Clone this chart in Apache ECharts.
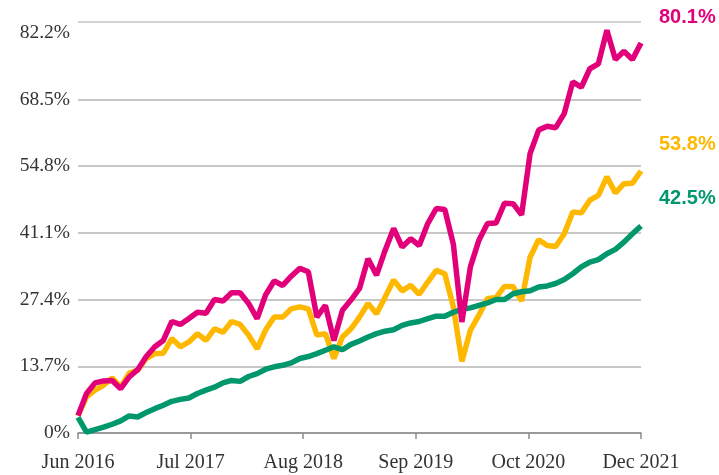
<!DOCTYPE html>
<html>
<head>
<meta charset="utf-8">
<script src="https://cdn.jsdelivr.net/npm/echarts@6/dist/echarts.min.js"></script>
<style>
    * { margin: 0; padding: 0; }
    html, body { background: #fff; }
</style>
</head>
<body>
<div id="chart" style="width: 719px;height: 475px;"></div>
<script>
    // monthly points, Jun 2016 .. Dec 2021 (67 months)
    var xTickLabels = ['Jun 2016', 'Jul 2017', 'Aug 2018', 'Sep 2019', 'Oct 2020', 'Dec 2021'];
    var yTicks = [0, 13.7, 27.4, 41.1, 54.8, 68.5, 82.2];

    var pinkData = [3.6, 8.1, 10.3, 10.7, 10.8, 9.1, 11.5, 13.0, 15.7, 17.7,
        19.0, 22.9, 22.3, 23.5, 24.8, 24.6, 27.4, 27.1, 28.8, 28.8,
        26.6, 23.5, 28.4, 31.2, 30.3, 32.2, 33.8, 33.1, 23.8, 26.2,
        19.0, 25.2, 27.3, 29.7, 35.8, 32.4, 37.5, 42.0, 38.2, 39.9,
        38.5, 43.0, 46.1, 45.9, 38.8, 22.8, 34.1, 39.6, 43.0, 43.1,
        47.2, 47.1, 44.8, 57.4, 62.2, 63.0, 62.7, 65.6, 72.1, 71.0,
        74.8, 75.8, 82.7, 76.7, 78.4, 76.7, 80.1];
    var orangeData = [3.5, 7.4, 8.8, 9.8, 11.3, 9.4, 12.3, 12.9, 15.3, 16.3,
        16.4, 19.4, 17.7, 18.7, 20.4, 19.0, 21.4, 20.7, 22.9, 22.3,
        20.1, 17.3, 21.2, 23.8, 23.8, 25.5, 25.9, 25.5, 20.1, 20.4,
        15.3, 19.7, 21.4, 23.8, 26.6, 24.5, 27.9, 31.4, 29.2, 30.3,
        28.5, 31.0, 33.4, 32.7, 25.9, 14.7, 21.1, 24.2, 27.6, 27.8,
        30.1, 30.1, 27.1, 36.1, 39.7, 38.5, 38.3, 40.9, 45.4, 45.2,
        47.8, 48.8, 52.6, 49.3, 51.2, 51.3, 53.8];
    var greenData = [3.2, 0.2, 0.7, 1.2, 1.8, 2.5, 3.5, 3.3, 4.2, 5.0,
        5.7, 6.5, 6.9, 7.2, 8.1, 8.8, 9.4, 10.3, 10.8, 10.6,
        11.6, 12.2, 13.1, 13.6, 13.9, 14.4, 15.3, 15.7, 16.3, 17.0,
        17.7, 17.1, 18.2, 18.9, 19.7, 20.4, 20.9, 21.2, 22.1, 22.6,
        22.9, 23.5, 24.0, 24.0, 24.8, 25.4, 25.7, 26.2, 26.7, 27.4,
        27.4, 28.6, 29.0, 29.2, 30.0, 30.2, 30.7, 31.5, 32.7, 34.1,
        35.1, 35.6, 36.8, 37.7, 39.2, 40.9, 42.5];

    function toPoints(arr) {
        return arr.map(function (v, i) { return [i, v]; });
    }

    var serifFont = '"Liberation Serif", "DejaVu Serif", serif';
    var sansFont = '"Liberation Sans", Arial, sans-serif';

    function endLabel(color, dy) {
        return {
            show: true,
            distance: 0,
            offset: [18, dy],
            color: color,
            fontFamily: sansFont,
            fontWeight: 'bold',
            fontSize: 20,
            formatter: function (p) { return p.value[1].toFixed(1) + '%'; }
        };
    }

    var chart = echarts.init(document.getElementById('chart'));
    chart.setOption({
        animation: false,
        grid: { left: 78, right: 78, top: 22, bottom: 42 },
        xAxis: {
            type: 'value',
            min: 0,
            max: 66,
            interval: 13.2,
            axisLine: { lineStyle: { color: '#8c8c8c', width: 1.5 } },
            axisTick: { show: true, length: 6, lineStyle: { color: '#8c8c8c', width: 1.5 } },
            splitLine: { show: false },
            axisLabel: {
                margin: 20,
                color: '#333',
                fontFamily: serifFont,
                fontSize: 20,
                formatter: function (v) { return xTickLabels[Math.round(v / 13.2)]; }
            }
        },
        yAxis: {
            type: 'value',
            min: 0,
            max: 84.4,
            interval: 13.7,
            axisLine: { show: false },
            axisTick: { show: false },
            splitLine: {
                lineStyle: {
                    // no line at 82.2, the top line sits on the plot edge
                    color: ['#b4b4b4', '#b4b4b4', '#b4b4b4', '#b4b4b4', '#b4b4b4', '#b4b4b4', 'rgba(0,0,0,0)', '#c4c4c4'],
                    width: 1.5
                }
            },
            axisLabel: {
                margin: 8,
                color: '#333',
                fontFamily: serifFont,
                fontSize: 19.5,
                formatter: function (v) {
                    if (v > yTicks[yTicks.length - 1] + 0.1) return '';
                    return v === 0 ? '0%' : v.toFixed(1) + '%';
                }
            }
        },
        series: [
            {
                name: 'orange',
                type: 'line',
                data: toPoints(orangeData),
                symbol: 'none',
                lineStyle: { color: '#ffb800', width: 5.5 },
                itemStyle: { color: '#ffb800' },
                endLabel: endLabel('#ffb800', -27)
            },
            {
                name: 'green',
                type: 'line',
                data: toPoints(greenData),
                symbol: 'none',
                lineStyle: { color: '#00976d', width: 5.5 },
                itemStyle: { color: '#00976d' },
                endLabel: endLabel('#00976d', -28)
            },
            {
                name: 'pink',
                type: 'line',
                data: toPoints(pinkData),
                symbol: 'none',
                lineStyle: { color: '#e2007a', width: 5.5 },
                itemStyle: { color: '#e2007a' },
                endLabel: endLabel('#e2007a', -25)
            }
        ]
    });
</script>
</body>
</html>
